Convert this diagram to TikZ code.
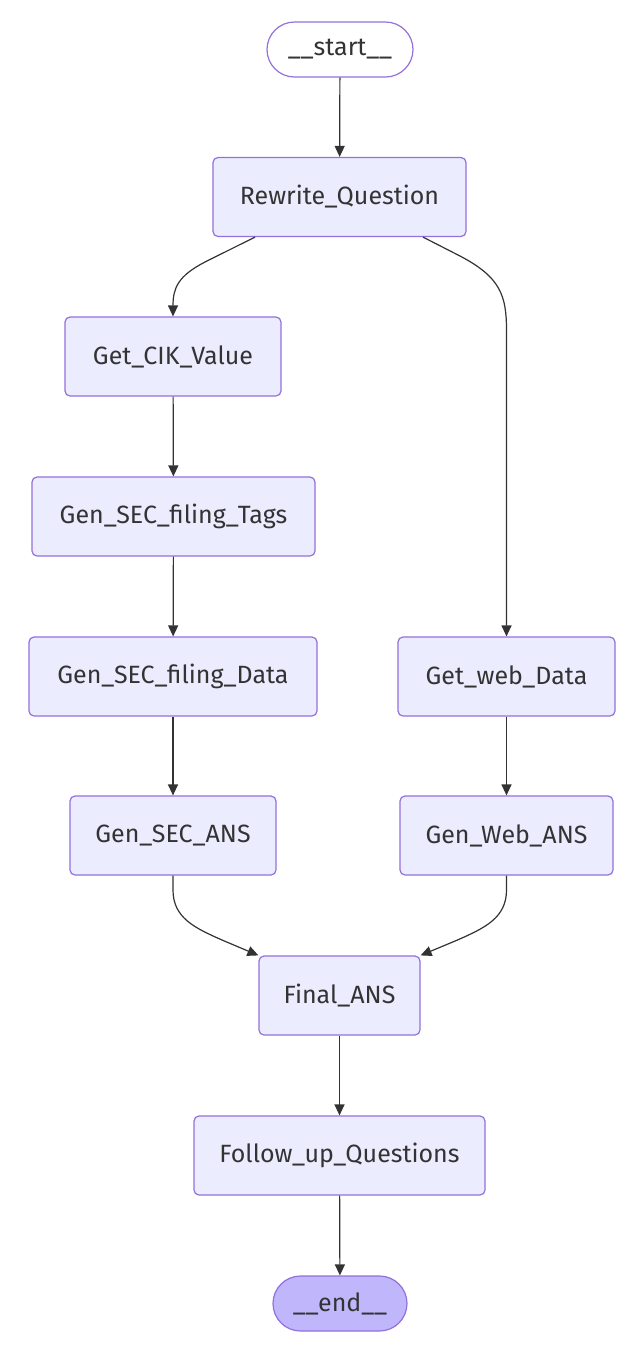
\documentclass[tikz,border=0pt]{standalone}
\usepackage{fontspec}
\setmainfont{Fira Sans}
\usetikzlibrary{arrows.meta,calc}
\definecolor{nodefill}{HTML}{ECECFF}
\definecolor{nodeline}{HTML}{9370DB}
\definecolor{edgecol}{HTML}{333333}
\definecolor{endfill}{HTML}{BFB6FC}
\tikzset{
  box/.style={draw=nodeline,fill=nodefill,line width=1.2pt,rounded corners=5pt,
    minimum height=79pt,inner sep=0pt,text=edgecol,font=\fontsize{25}{28}\selectfont},
  term/.style={draw=nodeline,line width=1.2pt,rounded corners=27.5pt,
    minimum height=55pt,inner sep=0pt,text=edgecol,font=\fontsize{25}{28}\selectfont},
  edge/.style={draw=edgecol,line width=1.2pt,-{Triangle[length=11pt,width=10pt]}},
}
\begin{document}
\begin{tikzpicture}[x=1pt,y=-1pt]
\useasboundingbox (0,0) rectangle (638,1350);
\fill[white] (0,0) rectangle (638,1350);
\node[term,fill=white,minimum width=146pt] (start) at (340,49.5) {\_\_start\_\_};
\node[box,minimum width=253pt] (rq) at (339.5,197) {Rewrite\_Question};
\node[box,minimum width=216pt] (cik) at (173,356.5) {Get\_CIK\_Value};
\node[box,minimum width=283pt] (tags) at (173.5,516.5) {Gen\_SEC\_filing\_Tags};
\node[box,minimum width=288pt] (data) at (173,676.5) {Gen\_SEC\_filing\_Data};
\node[box,minimum width=217pt] (web) at (506.5,676.5) {Get\_web\_Data};
\node[box,minimum width=206pt] (secans) at (173,835.5) {Gen\_SEC\_ANS};
\node[box,minimum width=213pt] (webans) at (506.5,835.5) {Gen\_Web\_ANS};
\node[box,minimum width=161pt] (final) at (339.5,995.5) {Final\_ANS};
\node[box,minimum width=291pt] (follow) at (339.5,1155.5) {Follow\_up\_Questions};
\node[term,fill=endfill,minimum width=134pt] (end) at (340,1303.5) {\_\_end\_\_};

\draw[edge] (start) -- (rq);
\draw[edge] ($(rq.south)+(-84.5,0)$) -- (205,262) .. controls (178,276) and (173,288) .. (cik.north);
\draw[edge] ($(rq.south)+(83.5,0)$) -- (460,256) .. controls (500,277) and (506.5,295) .. (506.5,330) -- (web.north);
\draw[edge] (cik) -- (tags);
\draw[edge] (tags) -- (data);
\draw[edge] (data) -- (secans);
\draw[edge] (web) -- (webans);
\draw[edge] (secans.south) -- (173,890) .. controls (173,918) and (195,928) .. (222,940) -- (final.north west);
\draw[edge] (webans.south) -- (506.5,890) .. controls (506.5,918) and (484.5,928) .. (457.5,940) -- (final.north east);
\draw[edge] (final) -- (follow);
\draw[edge] (follow) -- (end);
\end{tikzpicture}
\end{document}
